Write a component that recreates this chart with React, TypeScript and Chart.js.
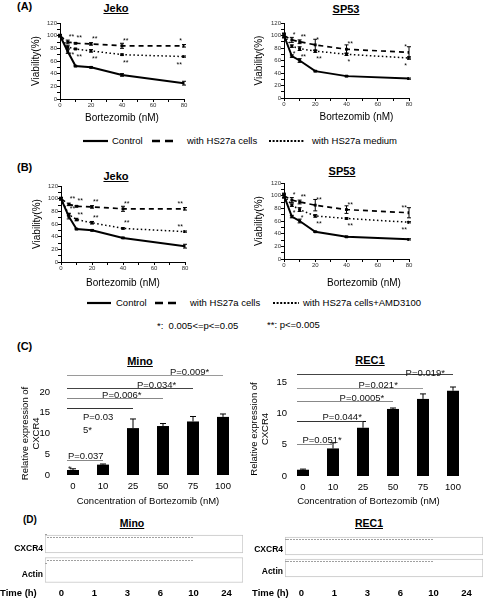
import React, { useEffect, useRef } from "react";
import { Chart, registerables } from "chart.js";

Chart.register(...registerables);
const FONT = "'Liberation Sans', Arial, Helvetica, sans-serif";
Chart.defaults.font.family = FONT;
Chart.defaults.color = "#000";

// ---------------- data ----------------
const doses = [0, 5, 10, 20, 40, 80];
const legendA = ["Control", "with HS27a cells", "with HS27a medium"];
const legendB = ["Control", "with HS27a cells", "with HS27a cells+AMD3100"];

// Panel A – Jeko
const aJekoControl = [100, 75, 52, 50, 38, 25];
const aJekoControlErr = [2, 3, 1, 1, 2, 3];
const aJekoCells = [100, 90, 88, 87, 84, 84];
const aJekoCellsErr = [2, 3, 1, 2, 4, 2];
const aJekoCellsStars = ["", "**", "**", "**", "**", "*"];
const aJekoMedium = [100, 82, 79, 76, 70, 67];
const aJekoMediumErr = [1, 2, 1, 2, 1, 1];
const aJekoMediumStars = ["", "**", "**", "**", "**", "**"];

// Panel A – SP53
const aSpControl = [100, 67, 60, 43, 35, 31];
const aSpControlErr = [4, 2, 3, 1, 1, 1];
const aSpCells = [100, 93, 90, 85, 78, 73];
const aSpCellsErr = [3, 4, 3, 9, 7, 9];
const aSpCellsStars = ["", "*", "**", "*", "**", "*"];
const aSpMedium = [100, 83, 79, 75, 70, 64];
const aSpMediumErr = [2, 2, 3, 2, 2, 2];
const aSpMediumStars = ["", "*", "**", "**", "*", "*"];

// Panel B – Jeko
const bJekoControl = [100, 72, 52, 50, 38, 25];
const bJekoControlErr = [2, 4, 1, 1, 1, 3];
const bJekoCells = [100, 91, 88, 87, 84, 84];
const bJekoCellsErr = [2, 2, 1, 2, 4, 2];
const bJekoCellsStars = ["", "**", "**", "**", "**", "**"];
const bJekoAmd = [100, 75, 67, 62, 53, 48];
const bJekoAmdErr = [2, 2, 2, 2, 1, 1];
const bJekoAmdStars = ["", "**", "**", "**", "**", "**"];

// Panel B – SP53
const bSpControl = [100, 67, 60, 43, 35, 31];
const bSpControlErr = [4, 2, 3, 1, 1, 1];
const bSpCells = [100, 93, 90, 85, 78, 73];
const bSpCellsErr = [3, 4, 3, 9, 6, 8];
const bSpCellsStars = ["", "*", "**", "**", "**", "**"];
const bSpAmd = [100, 85, 78, 68, 64, 58];
const bSpAmdErr = [2, 2, 3, 2, 1, 1];
const bSpAmdStars = ["", "*", "*", "**", "**", "**"];

// Panel C
const concLabels = ["0", "10", "25", "50", "75", "100"];
const minoExpr = [1.2, 2.5, 11.3, 11.8, 12.9, 14.0];
const minoErr = [0.3, 0.15, 2.2, 0.6, 1.2, 0.7];
const minoSigText = ["P=0.009*", "P=0.034*", "P=0.006*", "P=0.03\n5*", "P=0.037\n*"];
const minoSigTo = [5, 4, 3, 2, 1];
const minoSigLevel = [24.2, 20.9, 18.5, 16.1, 3.6];
const minoSigLabelX = [3.23, 2.13, 0.97, 0.33, -0.17];
const minoSigLabelY = [24.0, 20.9, 18.5, 13.2, 3.8];

const rec1Expr = [1.0, 4.4, 7.7, 10.7, 12.3, 13.6];
const rec1Err = [0.1, 0.9, 1.0, 0.15, 0.8, 0.6];
const rec1SigText = ["P=0.019*", "P=0.021*", "P=0.0005*", "P=0.044*", "P=0.051*"];
const rec1SigTo = [5, 4, 3, 2, 1];
const rec1SigLevel = [16.35, 14.0, 11.9, 8.7, 5.1];
const rec1SigLabelX = [3.42, 1.85, 1.22, 0.65, -0.02];
const rec1SigLabelY = [16.0, 14.0, 11.9, 9.0, 5.2];

// Panel D
const blotRows = ["CXCR4", "Actin"];
const blotTimes = ["0", "1", "3", "6", "10", "24"];

// ---------------- styles ----------------
const LINE_STYLES = [
  { width: 2, dash: [] as number[] },
  { width: 1.7, dash: [5, 4] },
  { width: 1.5, dash: [1.5, 2.5] },
];
const MINO_SIG_COLORS = ["#9a9a9a", "#444", "#888", "#333", "#888"];
const REC1_SIG_COLORS = ["#444", "#999", "#888", "#333", "#888"];

// ---------------- helpers ----------------
const fixW = (w: number) => (s: any) => {
  s.width = w;
  s.paddingTop = 0; s.paddingBottom = 0; s.paddingLeft = 0; s.paddingRight = 0;
};
const fixH = (h: number) => (s: any) => {
  s.height = h;
  s.paddingTop = 0; s.paddingBottom = 0; s.paddingLeft = 0; s.paddingRight = 0;
};

type Geo = { left: number; top: number; width: number; height: number; pl: number; pt: number; pr: number; pb: number };

const lineDecor = {
  id: "lineDecor",
  afterDatasetsDraw(chart: any) {
    const ctx = chart.ctx;
    const y = chart.scales.y;
    chart.data.datasets.forEach((ds: any, i: number) => {
      const meta = chart.getDatasetMeta(i);
      ctx.save();
      ctx.strokeStyle = "#000";
      ctx.lineWidth = 1;
      ctx.setLineDash([]);
      meta.data.forEach((el: any, j: number) => {
        const e = ds.errs[j];
        if (!e) return;
        const v = ds.data[j].y;
        const y1 = y.getPixelForValue(v + e);
        const y2 = y.getPixelForValue(v - e);
        ctx.beginPath();
        ctx.moveTo(el.x, y1); ctx.lineTo(el.x, y2);
        ctx.moveTo(el.x - 2, y1); ctx.lineTo(el.x + 2, y1);
        ctx.moveTo(el.x - 2, y2); ctx.lineTo(el.x + 2, y2);
        ctx.stroke();
      });
      if (ds.stars) {
        ctx.font = `7px ${FONT}`;
        ctx.fillStyle = "#000";
        ctx.textBaseline = "middle";
        meta.data.forEach((el: any, j: number) => {
          const s = ds.stars[j];
          if (!s) return;
          const last = j === meta.data.length - 1;
          ctx.textAlign = last ? "right" : "left";
          const dx = last ? -2 : 1;
          const dy = ds.starSide < 0 ? -5 : 8;
          ctx.fillText(s, el.x + dx, el.y + dy);
        });
      }
      ctx.restore();
    });
  },
};

type Series = { label: string; values: number[]; errs: number[]; stars?: string[]; starSide?: number };

function lineConfig(series: Series[], g: Geo, xTitle: string, yTitlePad: number, xTitlePad: number): any {
  const yw = g.pl - g.left;
  const xh = g.top + g.height - g.pb;
  return {
    type: "line",
    data: {
      datasets: series.map((s, i) => ({
        label: s.label,
        data: doses.map((d, j) => ({ x: d, y: s.values[j] })),
        errs: s.errs,
        stars: s.stars,
        starSide: s.starSide,
        borderColor: "#000",
        backgroundColor: "#000",
        borderWidth: LINE_STYLES[i].width,
        borderDash: LINE_STYLES[i].dash,
        pointStyle: "rect",
        pointRadius: 2,
        pointBorderWidth: 0,
        pointBackgroundColor: "#000",
        tension: 0,
        fill: false,
      })),
    },
    options: {
      animation: false,
      responsive: false,
      devicePixelRatio: 1,
      layout: { padding: { top: g.pt - g.top, right: g.left + g.width - g.pr, left: 0, bottom: 0 } },
      plugins: { legend: { display: false }, tooltip: { enabled: false } },
      scales: {
        x: {
          type: "linear",
          min: 0,
          max: 80,
          ticks: {
            stepSize: 10,
            autoSkip: false,
            maxRotation: 0,
            callback: (v: any) => (v % 20 === 0 ? String(v) : ""),
            font: { size: 6 },
            color: "#333",
            padding: 0,
          },
          grid: { drawOnChartArea: false, tickLength: 3, color: "#000" },
          border: { color: "#000", width: 1 },
          title: { display: true, text: xTitle, font: { size: 10 }, color: "#000", padding: { top: 0, bottom: xTitlePad } },
          afterFit: fixH(xh),
        },
        y: {
          type: "linear",
          min: 0,
          max: 120,
          ticks: {
            stepSize: 10,
            autoSkip: false,
            callback: (v: any) => (v % 20 === 0 ? String(v) : ""),
            font: { size: 6 },
            color: "#333",
            padding: 0,
          },
          grid: { drawOnChartArea: false, tickLength: 3, color: "#000" },
          border: { color: "#000", width: 1 },
          title: { display: true, text: "Viability(%)", font: { size: 10 }, color: "#000", padding: { top: yTitlePad, bottom: 0 } },
          afterFit: fixW(yw),
        },
      },
    },
    plugins: [lineDecor],
  };
}

function barConfig(
  values: number[], errs: number[], g: Geo, yMax: number, tickPad: number, yTitlePad: number, xTitle: string,
  sigText: string[], sigTo: number[], sigLevel: number[], sigLabelX: number[], sigLabelY: number[], sigColors: string[]
): any {
  const yw = g.pl - g.left;
  const xh = g.top + g.height - g.pb;
  const decor = {
    id: "barDecor",
    afterDatasetsDraw(chart: any) {
      const ctx = chart.ctx;
      const xs = chart.scales.x;
      const ys = chart.scales.y;
      const meta = chart.getDatasetMeta(0);
      ctx.save();
      ctx.strokeStyle = "#000";
      ctx.lineWidth = 1;
      meta.data.forEach((el: any, j: number) => {
        const top = ys.getPixelForValue(values[j] + errs[j]);
        ctx.beginPath();
        ctx.moveTo(el.x, el.y); ctx.lineTo(el.x, top);
        ctx.moveTo(el.x - 3, top); ctx.lineTo(el.x + 3, top);
        ctx.stroke();
      });
      const x0 = meta.data[0].x - meta.data[0].width / 2;
      ctx.font = `9.5px ${FONT}`;
      ctx.textAlign = "left";
      ctx.textBaseline = "alphabetic";
      sigTo.forEach((t, k) => {
        const yy = Math.round(ys.getPixelForValue(sigLevel[k])) + 0.5;
        ctx.strokeStyle = sigColors[k];
        ctx.lineWidth = 1.2;
        ctx.beginPath();
        ctx.moveTo(x0, yy);
        ctx.lineTo(xs.getPixelForValue(t), yy);
        ctx.stroke();
        ctx.fillStyle = "#111";
        const lx = xs.getPixelForValue(sigLabelX[k]);
        const ly = ys.getPixelForValue(sigLabelY[k]);
        sigText[k].split("\n").forEach((line, li) => ctx.fillText(line, lx, ly + li * 13));
      });
      ctx.restore();
    },
  };
  return {
    type: "bar",
    data: {
      labels: concLabels,
      datasets: [
        { data: values, backgroundColor: "#000", borderWidth: 0, barPercentage: 0.4, categoryPercentage: 1 },
      ],
    },
    options: {
      animation: false,
      responsive: false,
      devicePixelRatio: 1,
      layout: { padding: { top: g.pt - g.top, right: g.left + g.width - g.pr, left: 0, bottom: 0 } },
      plugins: { legend: { display: false }, tooltip: { enabled: false } },
      scales: {
        x: {
          type: "category",
          grid: { display: false, drawTicks: false },
          border: { display: false },
          ticks: { font: { size: 9.5 }, color: "#000", padding: 6, maxRotation: 0 },
          title: { display: true, text: xTitle, font: { size: 9.5 }, color: "#000", padding: { top: 0, bottom: 1 } },
          afterFit: fixH(xh),
        },
        y: {
          min: 0,
          max: yMax,
          ticks: { stepSize: 5, font: { size: 9.5 }, color: "#000", padding: tickPad },
          grid: { display: false, drawTicks: false },
          border: { display: false },
          title: {
            display: true,
            text: ["Relative expression of", "CXCR4"],
            font: { size: 9.5 },
            color: "#000",
            padding: { top: yTitlePad, bottom: 0 },
          },
          afterFit: fixW(yw),
        },
      },
    },
    plugins: [decor],
  };
}

const blotDecor = {
  id: "blotDecor",
  afterDatasetsDraw(chart: any) {
    const ctx = chart.ctx;
    ctx.save();
    ctx.strokeStyle = "#a0a0a0";
    ctx.lineWidth = 1;
    ctx.setLineDash([2, 1]);
    chart.data.datasets.forEach((_: any, i: number) => {
      chart.getDatasetMeta(i).data.forEach((el: any) => {
        if (!el || el.skip || !isFinite(el.x)) return;
        if (el.height === undefined || !isFinite(el.height)) return;
        const yy = Math.round(el.y - el.height / 2) + 2.5;
        ctx.beginPath();
        ctx.moveTo(el.base + 2, yy);
        ctx.lineTo(el.base + 0.75 * (el.x - el.base), yy);
        ctx.stroke();
      });
    });
    ctx.restore();
  },
};

function blotConfig(g: Geo, thick: number[], labelOffset: number, timePad: number): any {
  const yw = g.pl - g.left;
  const xh = g.top + g.height - g.pb;
  return {
    type: "bar",
    data: {
      labels: blotRows,
      datasets: blotRows.map((_, i) => ({
        data: blotRows.map((__, j) => (j === i ? [0, 1] : null)),
        backgroundColor: "#fff",
        borderColor: "#c4c4c4",
        borderWidth: 1,
        borderSkipped: false,
        barThickness: thick[i],
        grouped: false,
        xAxisID: "x",
        yAxisID: "y",
      })),
    },
    options: {
      indexAxis: "y",
      animation: false,
      responsive: false,
      devicePixelRatio: 1,
      layout: { padding: { top: g.pt - g.top, right: g.left + g.width - g.pr, left: 0, bottom: 0 } },
      plugins: { legend: { display: false }, tooltip: { enabled: false } },
      scales: {
        x: { type: "linear", min: 0, max: 1, display: false },
        xTime: {
          type: "category",
          axis: "x",
          labels: blotTimes,
          offset: true,
          position: "bottom",
          grid: { display: false, drawTicks: false },
          border: { display: false },
          ticks: { font: { size: 9.5, weight: "bold" }, color: "#000", padding: timePad, maxRotation: 0 },
          afterFit: fixH(xh),
        },
        y: {
          type: "category",
          grid: { display: false, drawTicks: false },
          border: { display: false },
          ticks: { font: { size: 8.5, weight: "bold" }, color: "#000", padding: 2, labelOffset },
          afterFit: fixW(yw),
        },
      },
    },
    plugins: [blotDecor],
  };
}

// ---------------- components ----------------
function ChartBox({ g, config }: { g: Geo; config: any }) {
  const ref = useRef<HTMLCanvasElement>(null);
  useEffect(() => {
    const chart = new Chart(ref.current as HTMLCanvasElement, config);
    return () => chart.destroy();
  }, []);
  return (
    <canvas
      ref={ref}
      width={g.width}
      height={g.height}
      style={{ position: "absolute", left: g.left, top: g.top, width: g.width, height: g.height }}
    />
  );
}

function Txt({ x, y, size = 11, bold = false, underline = false, center = false, children }: any) {
  return (
    <div
      style={{
        position: "absolute",
        left: x,
        top: y - size * 0.6,
        fontSize: size,
        lineHeight: `${size * 1.2}px`,
        fontWeight: bold ? "bold" : "normal",
        textDecoration: underline ? "underline" : "none",
        transform: center ? "translateX(-50%)" : "none",
        whiteSpace: "nowrap",
        color: "#000",
      }}
    >
      {children}
    </div>
  );
}

function Swatch({ x, y, w, style }: { x: number; y: number; w: number; style: number }) {
  const dash = style === 0 ? undefined : style === 1 ? "8,5" : "2,1.6";
  const sw = style === 0 ? 2.2 : style === 1 ? 2.4 : 2;
  return (
    <svg style={{ position: "absolute", left: x, top: y - 3 }} width={w} height={6}>
      <line x1={0} y1={3} x2={w} y2={3} stroke="#000" strokeWidth={sw} strokeDasharray={dash} />
    </svg>
  );
}

function Legend({ labels, y, swX, swW, txX }: { labels: string[]; y: number; swX: number[]; swW: number[]; txX: number[] }) {
  return (
    <>
      {labels.map((l, i) => (
        <React.Fragment key={l}>
          <Swatch x={swX[i]} y={y} w={swW[i]} style={i} />
          <Txt x={txX[i]} y={y} size={9.5}>{l}</Txt>
        </React.Fragment>
      ))}
    </>
  );
}

const gAJ: Geo = { left: 22, top: 14, width: 174, height: 114, pl: 60, pt: 23, pr: 184, pb: 99 };
const gAS: Geo = { left: 246, top: 14, width: 175, height: 113, pl: 284, pt: 23, pr: 409, pb: 98 };
const gBJ: Geo = { left: 23, top: 177, width: 174, height: 116, pl: 61, pt: 186, pr: 185, pb: 262 };
const gBS: Geo = { left: 246, top: 174, width: 175, height: 119, pl: 284, pt: 183, pr: 409, pb: 259 };
const gCM: Geo = { left: 10, top: 355, width: 235, height: 153, pl: 58, pt: 392, pr: 238, pb: 475 };
const gCR: Geo = { left: 246, top: 355, width: 234, height: 153, pl: 288, pt: 382, pr: 468, pb: 476 };
const gDM: Geo = { left: 0, top: 528, width: 245, height: 72, pl: 45, pt: 531, pr: 243, pb: 583 };
const gDR: Geo = { left: 245, top: 530, width: 240, height: 70, pl: 285, pt: 535, pr: 483, pb: 579 };

export default function App() {
  const xT = "Bortezomib (nM)";
  const cT = "Concentration of Bortezomib (nM)";
  return (
    <div style={{ position: "absolute", left: 0, top: 0, width: 485, height: 600, background: "#fff", fontFamily: FONT, overflow: "hidden" }}>
      {/* Panel A */}
      <Txt x={17} y={7} bold>(A)</Txt>
      <Txt x={116} y={9} bold underline center>Jeko</Txt>
      <Txt x={346} y={10} bold underline center>SP53</Txt>
      <ChartBox
        g={gAJ}
        config={lineConfig(
          [
            { label: legendA[0], values: aJekoControl, errs: aJekoControlErr },
            { label: legendA[1], values: aJekoCells, errs: aJekoCellsErr, stars: aJekoCellsStars, starSide: -1 },
            { label: legendA[2], values: aJekoMedium, errs: aJekoMediumErr, stars: aJekoMediumStars, starSide: 1 },
          ],
          gAJ, xT, 8, 4
        )}
      />
      <ChartBox
        g={gAS}
        config={lineConfig(
          [
            { label: legendA[0], values: aSpControl, errs: aSpControlErr },
            { label: legendA[1], values: aSpCells, errs: aSpCellsErr, stars: aSpCellsStars, starSide: -1 },
            { label: legendA[2], values: aSpMedium, errs: aSpMediumErr, stars: aSpMediumStars, starSide: 1 },
          ],
          gAS, "\u2003\u2003" + xT, 7, 4
        )}
      />
      <Legend labels={legendA} y={141} swX={[83, 152, 269]} swW={[25, 21, 35]} txX={[112, 187, 312]} />

      {/* Panel B */}
      <Txt x={17} y={168} bold>(B)</Txt>
      <Txt x={116} y={177} bold underline center>Jeko</Txt>
      <Txt x={342} y={172} bold underline center>SP53</Txt>
      <ChartBox
        g={gBJ}
        config={lineConfig(
          [
            { label: legendB[0], values: bJekoControl, errs: bJekoControlErr },
            { label: legendB[1], values: bJekoCells, errs: bJekoCellsErr, stars: bJekoCellsStars, starSide: -1 },
            { label: legendB[2], values: bJekoAmd, errs: bJekoAmdErr, stars: bJekoAmdStars, starSide: -1 },
          ],
          gBJ, xT, 8, 4
        )}
      />
      <ChartBox
        g={gBS}
        config={lineConfig(
          [
            { label: legendB[0], values: bSpControl, errs: bSpControlErr },
            { label: legendB[1], values: bSpCells, errs: bSpCellsErr, stars: bSpCellsStars, starSide: -1 },
            { label: legendB[2], values: bSpAmd, errs: bSpAmdErr, stars: bSpAmdStars, starSide: 1 },
          ],
          gBS, "\u2003\u2003\u2003\u2002" + xT, 7, 4
        )}
      />
      <Legend labels={legendB} y={303} swX={[87, 155, 273]} swW={[24, 21, 26]} txX={[116, 190, 303]} />
      <Txt x={157} y={326} size={9.5}>*:&nbsp;&nbsp;0.005&lt;=p&lt;=0.05</Txt>
      <Txt x={267} y={325} size={9.5}>**: p&lt;=0.005</Txt>

      {/* Panel C */}
      <Txt x={17} y={347} bold>(C)</Txt>
      <Txt x={140} y={362} bold underline center>Mino</Txt>
      <Txt x={370} y={361} bold underline center>REC1</Txt>
      <ChartBox
        g={gCM}
        config={barConfig(minoExpr, minoErr, gCM, 20, 8, 9.3, cT, minoSigText, minoSigTo, minoSigLevel, minoSigLabelX, minoSigLabelY, MINO_SIG_COLORS)}
      />
      <ChartBox
        g={gCR}
        config={barConfig(rec1Expr, rec1Err, gCR, 15, 1, 2.3, cT + "\u2003\u2003", rec1SigText, rec1SigTo, rec1SigLevel, rec1SigLabelX, rec1SigLabelY, REC1_SIG_COLORS)}
      />

      {/* Panel D */}
      <Txt x={23} y={520} bold size={10}>(D)</Txt>
      <Txt x={132} y={523} bold underline center size={10.5}>Mino</Txt>
      <Txt x={369} y={523} bold underline center size={10.5}>REC1</Txt>
      <ChartBox g={gDM} config={blotConfig(gDM, [18, 25], 5, 4.5)} />
      <ChartBox g={gDR} config={blotConfig(gDR, [18, 18], 3.5, 8.5)} />
      <Txt x={0} y={593} bold size={9.5}>Time (h)</Txt>
      <Txt x={252} y={593} bold size={9.5}>Time (h)</Txt>
    </div>
  );
}
